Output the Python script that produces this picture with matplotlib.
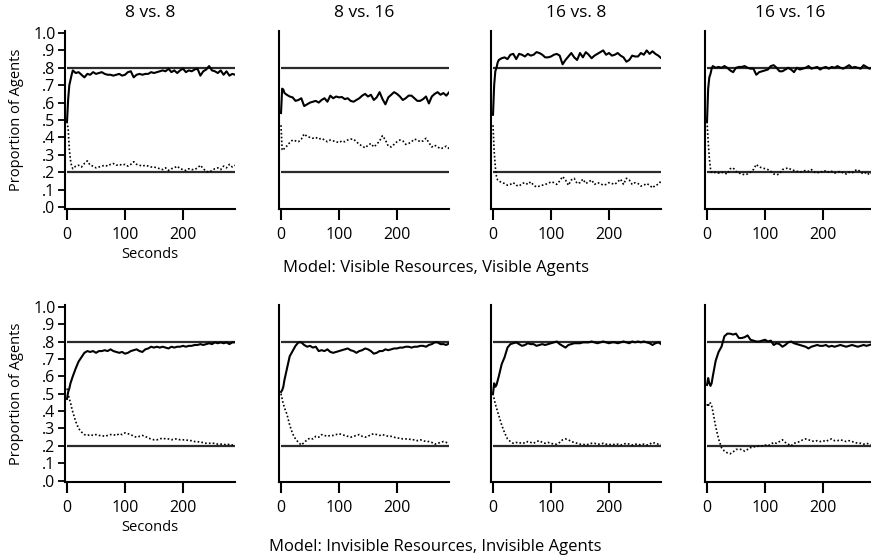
import matplotlib
matplotlib.use("Agg")
import matplotlib.pyplot as plt

plt.rcParams['font.family'] = ['Open Sans', 'DejaVu Sans']

# ---------------- data ----------------
seconds = [0, 2, 4, 6, 8, 10,
           15, 20, 25, 30, 35, 40, 45, 50, 55, 60,
           65, 70, 75, 80, 85, 90, 95, 100, 105, 110,
           115, 120, 125, 130, 135, 140, 145, 150, 155, 160,
           165, 170, 175, 180, 185, 190, 195, 200, 205, 210,
           215, 220, 225, 230, 235, 240, 245, 250, 255, 260,
           265, 270, 275, 280, 285, 290]

column_titles = ["8 vs. 8", "8 vs. 16", "16 vs. 8", "16 vs. 16"]
row_captions = ["Model: Visible Resources, Visible Agents",
                "Model: Invisible Resources, Invisible Agents"]
reference_levels = [0.8, 0.2]
y_ticks = [0.0, 0.1, 0.2, 0.3, 0.4, 0.5, 0.6, 0.7, 0.8, 0.9, 1.0]
y_tick_labels = [".0", ".1", ".2", ".3", ".4", ".5", ".6", ".7", ".8", ".9", "1.0"]
x_ticks = [0, 100, 200]

# Visible resources, visible agents
vis_88_solid = [0.49, 0.62, 0.70, 0.73, 0.76, 0.785,
    0.77, 0.775, 0.76, 0.745, 0.765, 0.76, 0.775, 0.765, 0.77, 0.775,
    0.765, 0.76, 0.76, 0.755, 0.76, 0.765, 0.755, 0.76, 0.775, 0.78,
    0.745, 0.76, 0.765, 0.76, 0.765, 0.765, 0.775, 0.77, 0.775, 0.78,
    0.785, 0.78, 0.795, 0.775, 0.785, 0.77, 0.785, 0.795, 0.775, 0.785,
    0.78, 0.79, 0.795, 0.755, 0.78, 0.79, 0.81, 0.785, 0.78, 0.77,
    0.785, 0.76, 0.78, 0.755, 0.765, 0.76]
vis_88_dotted = [0.49, 0.45, 0.33, 0.27, 0.235, 0.22,
    0.235, 0.24, 0.23, 0.25, 0.265, 0.24, 0.235, 0.225, 0.23, 0.235,
    0.24, 0.235, 0.245, 0.25, 0.24, 0.245, 0.24, 0.245, 0.235, 0.245,
    0.26, 0.245, 0.24, 0.235, 0.24, 0.235, 0.23, 0.23, 0.225, 0.22,
    0.215, 0.225, 0.21, 0.22, 0.225, 0.235, 0.22, 0.215, 0.21, 0.22,
    0.215, 0.215, 0.225, 0.24, 0.22, 0.205, 0.2, 0.21, 0.22, 0.225,
    0.215, 0.235, 0.225, 0.245, 0.23, 0.24]
vis_816_solid = [0.54, 0.68, 0.675, 0.655, 0.65, 0.645,
    0.635, 0.63, 0.61, 0.615, 0.625, 0.58, 0.59, 0.6, 0.605, 0.61,
    0.6, 0.615, 0.625, 0.605, 0.64, 0.625, 0.635, 0.63, 0.632, 0.62,
    0.625, 0.61, 0.605, 0.615, 0.625, 0.64, 0.65, 0.635, 0.645, 0.615,
    0.63, 0.66, 0.62, 0.59, 0.63, 0.645, 0.66, 0.65, 0.635, 0.615,
    0.625, 0.64, 0.64, 0.625, 0.61, 0.61, 0.62, 0.635, 0.595, 0.635,
    0.65, 0.66, 0.645, 0.655, 0.64, 0.66]
vis_816_dotted = [0.47, 0.33, 0.325, 0.34, 0.345, 0.35,
    0.37, 0.385, 0.38, 0.375, 0.39, 0.42, 0.405, 0.4, 0.395, 0.4,
    0.39, 0.395, 0.385, 0.375, 0.385, 0.38, 0.375, 0.37, 0.38, 0.375,
    0.385, 0.39, 0.39, 0.375, 0.36, 0.35, 0.34, 0.355, 0.365, 0.345,
    0.36, 0.38, 0.41, 0.385, 0.35, 0.345, 0.36, 0.375, 0.385, 0.38,
    0.36, 0.365, 0.375, 0.39, 0.385, 0.375, 0.38, 0.395, 0.37, 0.345,
    0.355, 0.345, 0.335, 0.34, 0.35, 0.335]
vis_168_solid = [0.53, 0.70, 0.78, 0.80, 0.83, 0.845,
    0.855, 0.86, 0.85, 0.875, 0.88, 0.85, 0.88, 0.875, 0.865, 0.88,
    0.87, 0.875, 0.89, 0.885, 0.875, 0.86, 0.86, 0.865, 0.875, 0.88,
    0.87, 0.82, 0.845, 0.865, 0.885, 0.86, 0.845, 0.885, 0.86, 0.89,
    0.875, 0.855, 0.87, 0.88, 0.89, 0.9, 0.875, 0.885, 0.87, 0.875,
    0.885, 0.87, 0.86, 0.835, 0.845, 0.87, 0.865, 0.865, 0.885, 0.875,
    0.9, 0.88, 0.895, 0.88, 0.87, 0.855]
vis_168_dotted = [0.47, 0.32, 0.23, 0.175, 0.155, 0.15,
    0.14, 0.135, 0.125, 0.13, 0.14, 0.125, 0.12, 0.135, 0.14, 0.13,
    0.145, 0.125, 0.115, 0.12, 0.125, 0.13, 0.135, 0.145, 0.14, 0.13,
    0.15, 0.175, 0.155, 0.125, 0.155, 0.165, 0.135, 0.14, 0.16, 0.135,
    0.145, 0.155, 0.13, 0.14, 0.135, 0.125, 0.13, 0.14, 0.135, 0.13,
    0.145, 0.16, 0.13, 0.165, 0.155, 0.13, 0.14, 0.135, 0.12, 0.125,
    0.135, 0.125, 0.11, 0.125, 0.13, 0.15]
vis_1616_solid = [0.49, 0.68, 0.745, 0.765, 0.795, 0.81,
    0.8, 0.805, 0.8, 0.81, 0.8, 0.785, 0.775, 0.8, 0.805, 0.805,
    0.81, 0.8, 0.795, 0.795, 0.76, 0.775, 0.78, 0.785, 0.79, 0.81,
    0.815, 0.8, 0.78, 0.78, 0.79, 0.8, 0.79, 0.775, 0.8, 0.79,
    0.795, 0.8, 0.81, 0.795, 0.8, 0.805, 0.79, 0.8, 0.805, 0.795,
    0.805, 0.8, 0.81, 0.8, 0.795, 0.805, 0.815, 0.8, 0.805, 0.8,
    0.795, 0.815, 0.805, 0.795, 0.8, 0.8]
vis_1616_dotted = [0.49, 0.38, 0.28, 0.22, 0.2, 0.195,
    0.2, 0.195, 0.2, 0.195, 0.19, 0.22, 0.225, 0.205, 0.195, 0.19,
    0.185, 0.19, 0.2, 0.215, 0.245, 0.23, 0.225, 0.22, 0.215, 0.205,
    0.19, 0.185, 0.19, 0.215, 0.22, 0.225, 0.215, 0.21, 0.205, 0.2,
    0.205, 0.21, 0.205, 0.215, 0.2, 0.195, 0.205, 0.2, 0.21, 0.2,
    0.205, 0.195, 0.2, 0.205, 0.195, 0.19, 0.2, 0.195, 0.21, 0.215,
    0.2, 0.19, 0.2, 0.185, 0.195, 0.205]

# Invisible resources, invisible agents
inv_88_solid = [0.47, 0.51, 0.53, 0.56, 0.58, 0.6,
    0.645, 0.685, 0.71, 0.735, 0.745, 0.74, 0.745, 0.735, 0.745, 0.745,
    0.75, 0.745, 0.755, 0.745, 0.74, 0.735, 0.74, 0.73, 0.735, 0.745,
    0.75, 0.755, 0.745, 0.74, 0.755, 0.76, 0.77, 0.765, 0.77, 0.765,
    0.77, 0.765, 0.76, 0.77, 0.765, 0.77, 0.77, 0.775, 0.77, 0.775,
    0.775, 0.78, 0.78, 0.785, 0.78, 0.785, 0.79, 0.785, 0.795, 0.79,
    0.795, 0.79, 0.795, 0.785, 0.795, 0.795]
inv_88_dotted = [0.53, 0.5, 0.47, 0.45, 0.42, 0.395,
    0.34, 0.3, 0.28, 0.265, 0.26, 0.265, 0.26, 0.265, 0.26, 0.26,
    0.255, 0.26, 0.265, 0.265, 0.26, 0.27, 0.265, 0.275, 0.27, 0.265,
    0.255, 0.25, 0.255, 0.26, 0.255, 0.245, 0.24, 0.235, 0.235, 0.24,
    0.245, 0.24, 0.24, 0.235, 0.24, 0.24, 0.235, 0.235, 0.235, 0.23,
    0.23, 0.225, 0.225, 0.22, 0.22, 0.215, 0.215, 0.215, 0.215, 0.21,
    0.21, 0.21, 0.205, 0.21, 0.205, 0.205]
inv_816_solid = [0.51, 0.52, 0.54, 0.58, 0.61, 0.64,
    0.715, 0.745, 0.775, 0.795, 0.795, 0.78, 0.77, 0.775, 0.765, 0.77,
    0.745, 0.75, 0.745, 0.755, 0.74, 0.735, 0.74, 0.745, 0.75, 0.755,
    0.76, 0.75, 0.745, 0.735, 0.745, 0.75, 0.76, 0.755, 0.745, 0.73,
    0.735, 0.745, 0.745, 0.755, 0.75, 0.755, 0.76, 0.76, 0.765, 0.765,
    0.77, 0.77, 0.765, 0.77, 0.77, 0.775, 0.775, 0.77, 0.78, 0.785,
    0.795, 0.795, 0.785, 0.785, 0.78, 0.79]
inv_816_dotted = [0.5, 0.47, 0.44, 0.42, 0.4, 0.385,
    0.32, 0.27, 0.24, 0.22, 0.205, 0.22, 0.235, 0.245, 0.24, 0.255,
    0.25, 0.265, 0.26, 0.255, 0.26, 0.26, 0.265, 0.27, 0.265, 0.26,
    0.255, 0.25, 0.255, 0.26, 0.265, 0.255, 0.25, 0.255, 0.265, 0.27,
    0.265, 0.26, 0.265, 0.26, 0.255, 0.255, 0.25, 0.245, 0.245, 0.24,
    0.24, 0.24, 0.235, 0.235, 0.23, 0.235, 0.23, 0.225, 0.225, 0.22,
    0.21, 0.215, 0.22, 0.225, 0.22, 0.215]
inv_168_solid = [0.5, 0.56, 0.54, 0.55, 0.575, 0.6,
    0.67, 0.71, 0.765, 0.785, 0.79, 0.795, 0.785, 0.775, 0.78, 0.79,
    0.785, 0.785, 0.775, 0.78, 0.785, 0.78, 0.785, 0.79, 0.795, 0.8,
    0.785, 0.775, 0.765, 0.78, 0.785, 0.79, 0.79, 0.79, 0.795, 0.795,
    0.795, 0.8, 0.795, 0.79, 0.795, 0.8, 0.795, 0.79, 0.795, 0.795,
    0.79, 0.795, 0.8, 0.795, 0.79, 0.8, 0.795, 0.8, 0.795, 0.8,
    0.795, 0.79, 0.78, 0.79, 0.795, 0.785]
inv_168_dotted = [0.5, 0.47, 0.44, 0.42, 0.395, 0.375,
    0.32, 0.275, 0.24, 0.225, 0.215, 0.22, 0.215, 0.22, 0.215, 0.225,
    0.22, 0.215, 0.225, 0.23, 0.22, 0.215, 0.22, 0.215, 0.21, 0.21,
    0.22, 0.235, 0.24, 0.235, 0.225, 0.22, 0.215, 0.21, 0.21, 0.205,
    0.21, 0.215, 0.215, 0.21, 0.21, 0.215, 0.21, 0.21, 0.205, 0.21,
    0.21, 0.205, 0.21, 0.215, 0.21, 0.205, 0.21, 0.21, 0.205, 0.21,
    0.205, 0.21, 0.22, 0.215, 0.21, 0.21]
inv_1616_solid = [0.55, 0.59, 0.56, 0.545, 0.56, 0.6,
    0.69, 0.74, 0.77, 0.83, 0.845, 0.845, 0.84, 0.845, 0.82, 0.82,
    0.825, 0.835, 0.81, 0.805, 0.8, 0.8, 0.805, 0.81, 0.8, 0.805,
    0.78, 0.79, 0.785, 0.77, 0.78, 0.795, 0.8, 0.79, 0.785, 0.78,
    0.775, 0.77, 0.76, 0.77, 0.775, 0.78, 0.775, 0.775, 0.78, 0.77,
    0.775, 0.77, 0.775, 0.78, 0.775, 0.77, 0.775, 0.78, 0.775, 0.77,
    0.775, 0.78, 0.775, 0.78, 0.785, 0.78]
inv_1616_dotted = [0.44, 0.425, 0.45, 0.445, 0.43, 0.4,
    0.31, 0.24, 0.19, 0.17, 0.16, 0.155, 0.165, 0.18, 0.18, 0.18,
    0.17, 0.18, 0.19, 0.195, 0.195, 0.2, 0.2, 0.205, 0.2, 0.21,
    0.22, 0.215, 0.225, 0.235, 0.22, 0.21, 0.2, 0.215, 0.22, 0.225,
    0.235, 0.24, 0.235, 0.23, 0.225, 0.23, 0.225, 0.23, 0.225, 0.235,
    0.24, 0.23, 0.23, 0.235, 0.23, 0.225, 0.23, 0.225, 0.22, 0.215,
    0.215, 0.21, 0.215, 0.21, 0.205, 0.205]

rows = [
    [(vis_88_solid, vis_88_dotted), (vis_816_solid, vis_816_dotted),
     (vis_168_solid, vis_168_dotted), (vis_1616_solid, vis_1616_dotted)],
    [(inv_88_solid, inv_88_dotted), (inv_816_solid, inv_816_dotted),
     (inv_168_solid, inv_168_dotted), (inv_1616_solid, inv_1616_dotted)],
]

# ---------------- layout (pixels) ----------------
W, H = 871, 556
fig = plt.figure(figsize=(W / 100, H / 100), dpi=100)

px_per_unit_y = 174.0
px_per_sec = 0.58
x_lo, x_hi = -3, 290
y_lo, y_hi = -0.01, 1.01
ax_w = (x_hi - x_lo) * px_per_sec
ax_h = (y_hi - y_lo) * px_per_unit_y
zero_x_px = [67, 281, 493, 707]
one_y_px = [33.0, 306.7]

TICK_FS = 11.5
TITLE_FS = 12.5
CAPTION_FS = 12
LABEL_FS = 10.5
for r, row in enumerate(rows):
    top = one_y_px[r] - (y_hi - 1.0) * px_per_unit_y
    for c, (solid, dotted) in enumerate(row):
        left = zero_x_px[c] + x_lo * px_per_sec
        ax = fig.add_axes([left / W, 1 - (top + ax_h) / H, ax_w / W, ax_h / H])
        ax.set_xlim(x_lo, x_hi)
        ax.set_ylim(y_lo, y_hi)
        ax.patch.set_alpha(0)
        for lvl in reference_levels:
            ax.hlines(lvl, seconds[0], seconds[-1], color="#2b2b2b", lw=1.6, zorder=1)
        ax.plot(seconds, solid, color="black", lw=1.5, zorder=3)
        ax.plot(seconds, dotted, color="black", lw=1.2, linestyle=(0, (1, 1.3)), zorder=3)
        for s in ("top", "right"):
            ax.spines[s].set_visible(False)
        for s in ("left", "bottom"):
            ax.spines[s].set_linewidth(1.5)
            ax.spines[s].set_color("black")
        ax.set_xticks(x_ticks)
        ax.set_xticklabels([str(v) for v in x_ticks])
        ax.tick_params(axis="x", direction="out", length=8, width=1.5, pad=5,
                       labelsize=TICK_FS, colors="black")
        if c == 0:
            ax.set_yticks(y_ticks)
            ax.set_yticklabels(y_tick_labels)
            ax.tick_params(axis="y", direction="out", length=5, width=1.3, pad=2,
                           labelsize=TICK_FS)
            fig.text(17 / W, 1 - (one_y_px[r] + 0.5 * px_per_unit_y) / H,
                     "Proportion of Agents", rotation=90, ha="center", va="center",
                     fontsize=LABEL_FS)
            fig.text((zero_x_px[0] + 83) / W, 1 - (one_y_px[r] + 221) / H, "Seconds",
                     ha="center", va="center", fontsize=LABEL_FS)
        else:
            ax.set_yticks([])
        if r == 0:
            ax.set_title(column_titles[c], fontsize=TITLE_FS, pad=10)
    fig.text(0.5, 1 - (one_y_px[r] + 235 + (r * 5)) / H, row_captions[r],
             ha="center", va="center", fontsize=CAPTION_FS)

fig.savefig("out.png", dpi=100)
